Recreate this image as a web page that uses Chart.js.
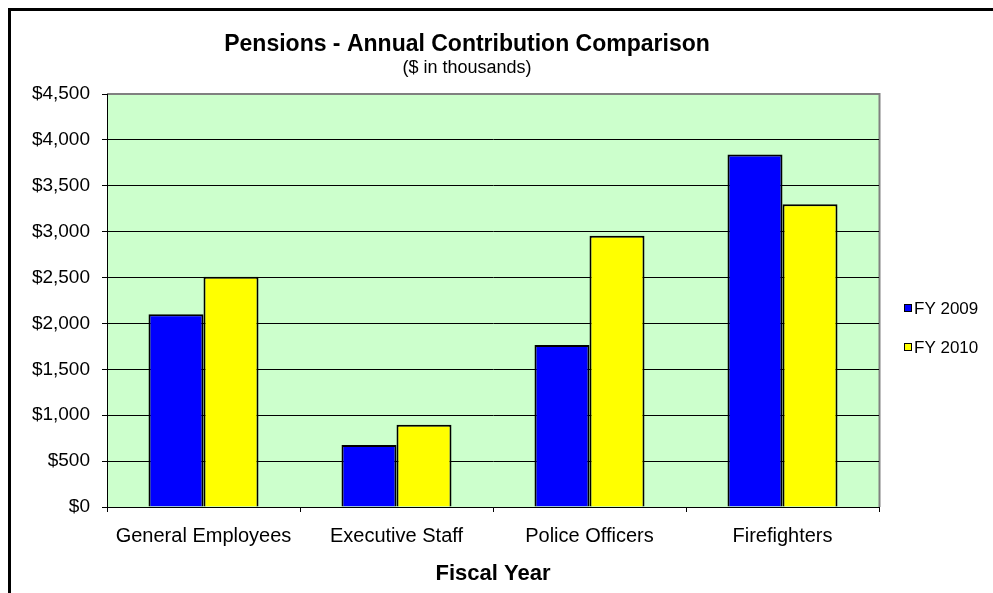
<!DOCTYPE html>
<html>
<head>
<meta charset="utf-8">
<title>Pensions - Annual Contribution Comparison</title>
<script src="https://cdn.jsdelivr.net/npm/chart.js@4.4.0/dist/chart.umd.min.js"></script>
<style>
    html, body { margin: 0; padding: 0; background: #fff; overflow: hidden; }
    #wrap { position: relative; width: 993px; height: 593px; }
    #frame { position: absolute; left: 8px; top: 8px; width: 1100px; height: 700px; border: 3px solid #000; }
    #chart { position: absolute; left: 0; top: 0; }
</style>
</head>
<body>
<div id="wrap">
    <div id="frame"></div>
    <canvas id="chart" width="993" height="593"></canvas>
</div>
<script>
// Annual pension contributions, $ in thousands
const categories = ['General Employees', 'Executive Staff', 'Police Officers', 'Firefighters'];
const seriesNames = ['FY 2009', 'FY 2010'];
const fy2009 = [2100, 675, 1765, 3840];
const fy2010 = [2510, 895, 2955, 3300];
const yTicks = [0, 500, 1000, 1500, 2000, 2500, 3000, 3500, 4000, 4500];

const FONT = 'Liberation Sans, Arial, Helvetica, sans-serif';

// Green plot area with the grey top/right border
const plotArea = {
    id: 'plotArea',
    beforeDraw(chart) {
        const { ctx, chartArea: a } = chart;
        ctx.save();
        ctx.fillStyle = '#CCFFCC';
        ctx.fillRect(a.left, a.top, a.right - a.left, a.bottom - a.top);
        ctx.strokeStyle = '#808080';
        ctx.lineWidth = 2;
        ctx.beginPath();
        ctx.moveTo(a.left, a.top);
        ctx.lineTo(a.right + 0.5, a.top);
        ctx.lineTo(a.right + 0.5, a.bottom);
        ctx.stroke();
        ctx.restore();
    }
};

// Title, subtitle and the legend on the right
const headerAndLegend = {
    id: 'headerAndLegend',
    afterDraw(chart) {
        const { ctx } = chart;
        ctx.save();
        ctx.fillStyle = '#000';
        ctx.textAlign = 'center';
        ctx.textBaseline = 'alphabetic';
        ctx.font = 'bold 23px ' + FONT;
        ctx.fillText('Pensions - Annual Contribution Comparison', 467, 51);
        ctx.font = '18px ' + FONT;
        ctx.fillText('($ in thousands)', 467, 73);

        const rows = [308, 347];
        chart.data.datasets.forEach((ds, i) => {
            const y = rows[i];
            ctx.fillStyle = ds.backgroundColor;
            ctx.fillRect(904, y - 4, 8, 8);
            ctx.strokeStyle = '#000';
            ctx.lineWidth = 1;
            ctx.strokeRect(904.5, y - 3.5, 7, 7);
            ctx.fillStyle = '#000';
            ctx.font = '17px ' + FONT;
            ctx.textAlign = 'left';
            ctx.textBaseline = 'middle';
            ctx.fillText(ds.label, 914, y + 1);
        });
        ctx.restore();
    }
};

new Chart(document.getElementById('chart').getContext('2d'), {
    type: 'bar',
    data: {
        labels: categories,
        datasets: [
            {
                label: seriesNames[0],
                data: fy2009,
                backgroundColor: '#0000FF',
                borderColor: '#000',
                borderWidth: 2,
                categoryPercentage: 0.57,
                barPercentage: 1.0
            },
            {
                label: seriesNames[1],
                data: fy2010,
                backgroundColor: '#FFFF00',
                borderColor: '#000',
                borderWidth: 2,
                categoryPercentage: 0.57,
                barPercentage: 1.0
            }
        ]
    },
    options: {
        responsive: false,
        animation: false,
        layout: { padding: { left: 0, right: 114, top: 94, bottom: 0 } },
        plugins: {
            legend: { display: false },
            title: { display: false },
            tooltip: { enabled: false }
        },
        scales: {
            x: {
                grid: { display: true, drawOnChartArea: false, drawTicks: true, tickLength: 5, color: '#000', offset: true },
                border: { color: '#000', width: 1 },
                ticks: { color: '#000', font: { family: FONT, size: 20 }, padding: 12, maxRotation: 0 },
                title: {
                    display: true,
                    text: 'Fiscal Year',
                    color: '#000',
                    font: { family: FONT, size: 22, weight: 'bold' },
                    padding: { top: 0, bottom: 6 }
                },
                afterFit: s => { s.height = 86; }
            },
            y: {
                min: 0,
                max: 4500,
                afterBuildTicks: s => { s.ticks = yTicks.map(v => ({ value: v })); },
                ticks: {
                    color: '#000',
                    font: { family: FONT, size: 19 },
                    padding: 12,
                    callback: v => '$' + v.toLocaleString('en-US')
                },
                grid: {
                    color: ctx => ctx.tick && ctx.tick.value === 4500 ? '#808080' : '#000',
                    tickColor: '#000',
                    tickLength: 5,
                    lineWidth: 1
                },
                border: { color: '#000', width: 1 },
                afterFit: s => { s.width = 107; }
            }
        }
    },
    plugins: [plotArea, headerAndLegend]
});
</script>
</body>
</html>
